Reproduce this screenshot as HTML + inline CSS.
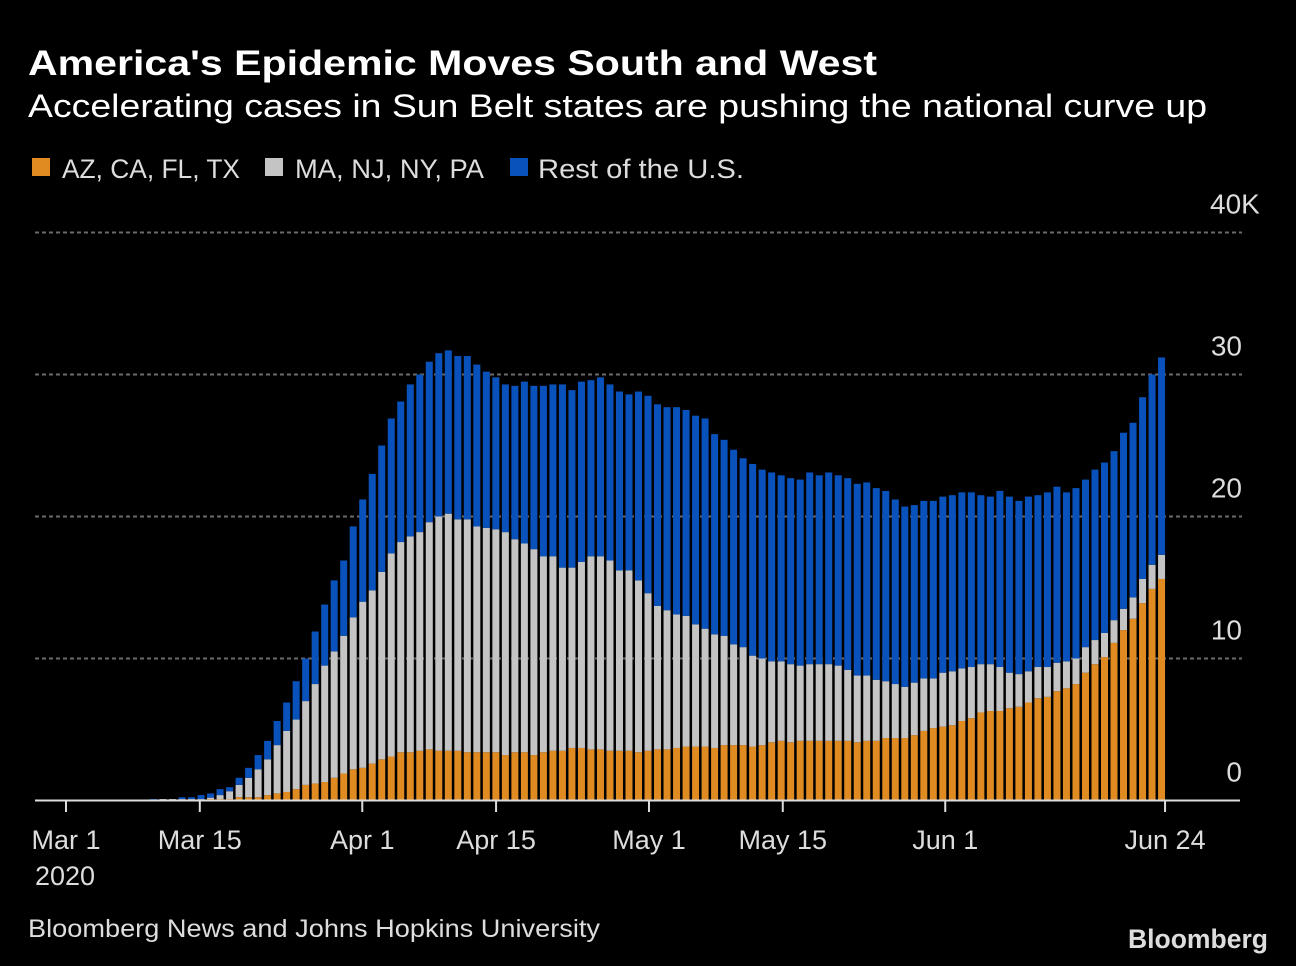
<!DOCTYPE html>
<html><head><meta charset="utf-8"><style>
html,body{margin:0;padding:0;background:#000;}
svg{display:block;}
text{font-family:"Liberation Sans",sans-serif;}
</style></head><body>
<svg id="chart" width="1296" height="966" viewBox="0 0 1296 966" xmlns="http://www.w3.org/2000/svg">
<rect width="1296" height="966" fill="#000"/>
<text x="28" y="75" font-size="35" font-weight="bold" fill="#fff" textLength="849" lengthAdjust="spacingAndGlyphs">America's Epidemic Moves South and West</text>
<text x="28" y="117" font-size="32" fill="#fff" textLength="1179" lengthAdjust="spacingAndGlyphs">Accelerating cases in Sun Belt states are pushing the national curve up</text>
<g>
<rect x="32" y="158" width="18" height="18" fill="#e08a22"/>
<text x="62" y="178" font-size="27" fill="#ddd" textLength="178" lengthAdjust="spacingAndGlyphs">AZ, CA, FL, TX</text>
<rect x="265" y="158" width="18" height="18" fill="#c4c4c4"/>
<text x="295" y="178" font-size="27" fill="#ddd" textLength="189" lengthAdjust="spacingAndGlyphs">MA, NJ, NY, PA</text>
<rect x="510" y="158" width="18" height="18" fill="#0a52bb"/>
<text x="538" y="178" font-size="27" fill="#ddd" textLength="206" lengthAdjust="spacingAndGlyphs">Rest of the U.S.</text>
</g>
<g id="grid"></g>
<g id="bars"></g>
<g id="axis"></g>
<text x="28" y="937" font-size="25" fill="#ddd" textLength="572" lengthAdjust="spacingAndGlyphs">Bloomberg News and Johns Hopkins University</text>
<text x="1128" y="948" font-size="27" font-weight="bold" fill="#ddd" textLength="140" lengthAdjust="spacingAndGlyphs">Bloomberg</text>
</svg>
<script>
const firstDay = 9; // Mar 10 (days since Mar 1)
const sunbelt = [0,0,0,0,0,0,.1,.1,.1,.23,.23,.23,.38,.5,.6,.8,1.1,1.2,1.3,1.6,1.9,2.2,2.3,2.6,2.9,3.1,3.4,3.4,3.5,3.6,3.5,3.5,3.5,3.4,3.4,3.4,3.4,3.2,3.4,3.4,3.2,3.4,3.5,3.5,3.7,3.7,3.6,3.6,3.5,3.5,3.5,3.4,3.5,3.6,3.6,3.7,3.8,3.8,3.8,3.7,3.9,3.9,3.9,3.8,3.9,4.1,4.2,4.1,4.2,4.2,4.2,4.2,4.2,4.2,4.1,4.2,4.2,4.4,4.4,4.4,4.6,4.9,5.1,5.2,5.3,5.6,5.8,6.2,6.3,6.3,6.5,6.6,6.9,7.2,7.3,7.7,7.9,8.2,9.0,9.6,10.1,11.1,12.0,12.8,13.9,14.9,15.6];
const northeast = [0,.1,.1,.1,.1,.1,.1,.28,.55,.87,1.37,1.97,2.52,3.4,4.3,4.9,5.9,7.0,8.2,8.9,9.7,10.7,11.7,12.2,13.2,14.3,14.8,15.2,15.4,16.0,16.5,16.7,16.3,16.4,15.9,15.8,15.7,15.7,15.0,14.7,14.5,13.8,13.7,12.9,12.7,13.1,13.6,13.6,13.4,12.7,12.7,12.1,11.1,10.1,9.8,9.4,9.2,8.6,8.3,8.0,7.7,7.1,6.9,6.4,6.1,5.7,5.6,5.5,5.3,5.4,5.4,5.4,5.3,5.0,4.7,4.6,4.3,4.0,3.8,3.6,3.7,3.7,3.5,3.8,3.8,3.7,3.6,3.4,3.3,3.1,2.5,2.3,2.2,2.2,2.1,2.0,1.9,1.8,1.8,1.7,1.7,1.6,1.5,1.5,1.7,1.7,1.7];
const rest = [.1,0,0,.13,.13,.28,.3,.42,.29,.5,.7,1.0,1.3,1.7,2.0,2.7,3.0,3.7,4.3,5.0,5.3,6.4,7.2,8.2,8.9,9.5,9.9,10.7,11.1,11.3,11.5,11.5,11.5,11.5,11.4,11.0,10.7,10.4,10.8,11.4,11.5,12.0,12.1,12.9,12.5,12.7,12.4,12.6,12.4,12.6,12.4,13.3,13.9,14.2,14.3,14.6,14.5,14.7,14.8,14.1,13.8,13.7,13.3,13.5,13.3,13.3,13.1,13.1,13.1,13.5,13.3,13.5,13.4,13.5,13.5,13.6,13.5,13.4,13.0,12.7,12.5,12.5,12.5,12.4,12.4,12.4,12.3,11.9,11.8,12.4,12.4,12.2,12.3,12.1,12.3,12.4,11.9,12.0,11.8,12.0,12.0,11.9,12.4,12.3,12.8,13.4,13.9];
const yTicks = [0,10,20,30,40];
const yTickLabels = ["0","10","20","30","40K"];
const xTickDays = [0,14,31,45,61,75,92,115];
const xTickLabels = ["Mar 1","Mar 15","Apr 1","Apr 15","May 1","May 15","Jun 1","Jun 24"];

const NS = "http://www.w3.org/2000/svg";
function yScale(v){ return 800.5 - v*14.2; }
function barLeft(i){ return 150 + i*9.51; }
function tickX(d){ return 66 + d*9.557; }
function mk(tag, attrs, parent){ const e=document.createElementNS(NS,tag); for(const k in attrs) e.setAttribute(k,attrs[k]); parent.appendChild(e); return e; }

const grid=document.getElementById('grid');
yTicks.forEach((t,i)=>{
  if(t>0){
    const l=mk('line',{x1:35,x2:1242,y1:yScale(t),y2:yScale(t),stroke:'#6a6a6a','stroke-width':2,'stroke-dasharray':'4 3'},grid);
    
    
  }
  const lab=yTickLabels[i];
  const tx=mk('text',{x:lab.indexOf('K')>=0?1210:1242,y:yScale(t)-19,'font-size':28,fill:'#ddd','text-anchor':lab.indexOf('K')>=0?'start':'end'},grid);
  tx.textContent=lab;
  
  
});

const bars=document.getElementById('bars');
for(let i=0;i<sunbelt.length;i++){
  const x=barLeft(i);
  const v1=sunbelt[i], v2=v1+northeast[i], v3=v2+rest[i];
  const segs=[[0,v1,'#e08a22','sunbelt'],[v1,v2,'#c4c4c4','northeast'],[v2,v3,'#0a52bb','rest']];
  segs.forEach(s=>{
    if(s[1]-s[0]<=0) return;
    const r=mk('rect',{x:x,y:yScale(s[1]),width:7,height:yScale(s[0])-yScale(s[1]),fill:s[2]},bars);
    
    
  });
}

const axis=document.getElementById('axis');
const al=mk('line',{x1:35,x2:1240,y1:800.5,y2:800.5,stroke:'#ddd','stroke-width':2},axis);


xTickDays.forEach((d,i)=>{
  const x=tickX(d);
  const t=mk('line',{x1:x,x2:x,y1:800,y2:812,stroke:'#ddd','stroke-width':2},axis);
  
  
  const lab=mk('text',{x:x,y:849,'font-size':27,fill:'#ddd','text-anchor':'middle'},axis);
  lab.textContent=xTickLabels[i];
  
  
});
const yr=mk('text',{x:65,y:885,'font-size':27,fill:'#ddd','text-anchor':'middle'},axis);
yr.textContent='2020';


</script>
</body></html>
